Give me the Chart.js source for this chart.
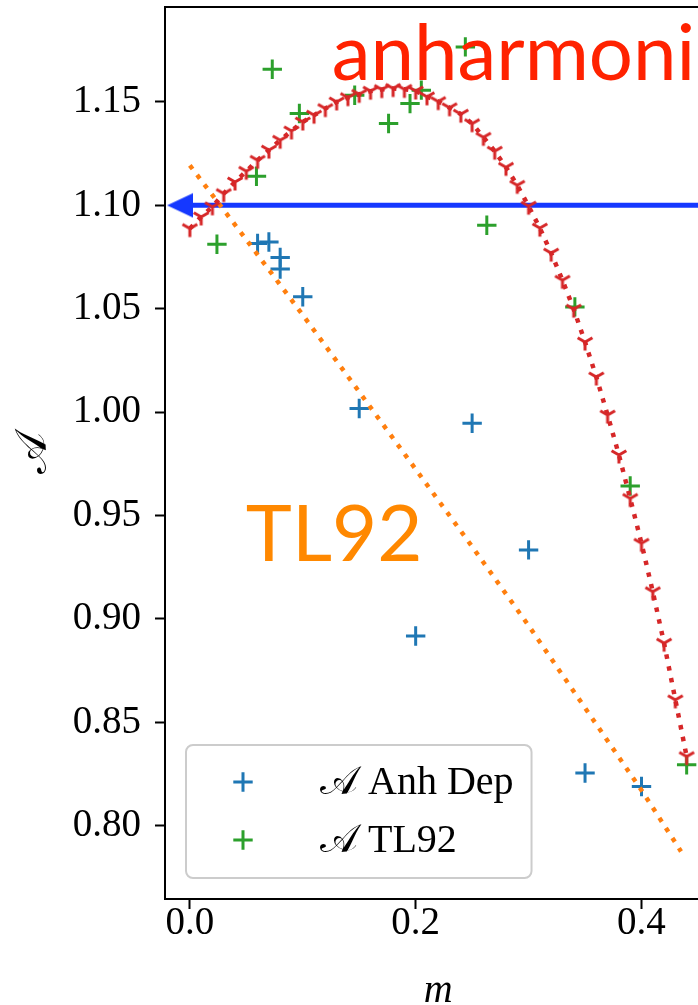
<!DOCTYPE html>
<html>
<head>
<meta charset="utf-8">
<script src="https://cdn.jsdelivr.net/npm/chart.js@4.4.1/dist/chart.umd.min.js"></script>
<style>
  html, body { margin: 0; padding: 0; background: #fff; overflow: hidden; }
  #wrap { width: 698px; height: 1005px; overflow: hidden; }
  canvas { display: block; }
</style>
</head>
<body>
<div id="wrap"><canvas id="chart" width="720" height="1005"></canvas></div>
<script>
// values
const anhDepM = [0.06, 0.07, 0.08, 0.08, 0.10, 0.15, 0.20, 0.25, 0.30, 0.35, 0.40];
const anhDepA = [1.0816, 1.0823, 1.0748, 1.0692, 1.0558, 1.0018, 0.8918, 0.9946, 0.9334, 0.8255, 0.8190];

const tl92M = [0.024, 0.059, 0.073, 0.097, 0.146, 0.176, 0.195, 0.205, 0.244, 0.263, 0.341, 0.390, 0.440];
const tl92A = [1.0812, 1.1141, 1.1658, 1.1444, 1.1532, 1.1396, 1.1492, 1.1557, 1.1766, 1.0904, 1.0509, 0.9643, 0.8295];

// dotted orange TL92 curve
const tl92LineM = [0.00, 0.05, 0.10, 0.15, 0.20, 0.25, 0.30, 0.35, 0.40, 0.435];
const tl92LineA = [1.1193, 1.0834, 1.0470, 1.0098, 0.9724, 0.9350, 0.8968, 0.8570, 0.8172, 0.7876];

// dotted red anharmonic curve with markers
const anhM = [0.00, 0.01, 0.02, 0.03, 0.04, 0.05, 0.06, 0.07, 0.08, 0.09,
              0.10, 0.11, 0.12, 0.13, 0.14, 0.15, 0.16, 0.17, 0.18, 0.19,
              0.20, 0.21, 0.22, 0.23, 0.24, 0.25, 0.26, 0.27, 0.28, 0.29,
              0.30, 0.31, 0.32, 0.33, 0.34, 0.35, 0.36, 0.37, 0.38, 0.39,
              0.40, 0.41, 0.42, 0.43, 0.44];
const anhA = [1.0888, 1.0944, 1.0993, 1.1057, 1.1113, 1.1165, 1.1218, 1.1267, 1.1315, 1.1360,
              1.1403, 1.1436, 1.1468, 1.1500, 1.1521, 1.1537, 1.1552, 1.1560, 1.1565, 1.1561,
              1.1553, 1.1525, 1.1502, 1.1472, 1.1441, 1.1395, 1.1329, 1.1262, 1.1184, 1.1097,
              1.0996, 1.0890, 1.0769, 1.0638, 1.0498, 1.0339, 1.0170, 0.9986, 0.9793, 0.9583,
              0.9366, 0.9132, 0.8883, 0.8609, 0.8335];

// blue arrow pointing at A = 1.10
const arrowM = [-0.0087, 0.47];
const arrowA = [1.10, 1.10];

const xTicks = [0.0, 0.2, 0.4];
const yTicks = [0.80, 0.85, 0.90, 0.95, 1.00, 1.05, 1.10, 1.15];

// text written inside the plot
const noteText = ['anharmoni', 'TL92'];
const noteM = [0.1256, 0.0496];
const noteA = [1.1605, 0.9281];
const noteColor = ['#ff2200', '#ff8800'];

const toPoints = (xs, ys) => xs.map((x, i) => ({ x: x, y: ys[i] }));

// matplotlib style "1" marker (tri_down)
function makeTriDown() {
  const c = document.createElement('canvas');
  c.width = 26; c.height = 26;
  const g = c.getContext('2d');
  g.strokeStyle = '#d62728';
  g.lineWidth = 3;
  g.beginPath();
  g.moveTo(13, 13); g.lineTo(13, 21.5);
  g.moveTo(13, 13); g.lineTo(13 - 7.4, 13 - 4.25);
  g.moveTo(13, 13); g.lineTo(13 + 7.4, 13 - 4.25);
  g.stroke();
  return c;
}

function makeArrowHead() {
  const c = document.createElement('canvas');
  c.width = 26; c.height = 26;
  const g = c.getContext('2d');
  g.fillStyle = '#1538ff';
  g.beginPath();
  g.moveTo(0, 13); g.lineTo(26, 0.7); g.lineTo(26, 25.3);
  g.closePath();
  g.fill();
  return c;
}

const frame = {
  id: 'frame',
  afterDatasetsDraw(chart) {
    const { ctx, chartArea: a, scales } = chart;
    ctx.save();
    // notes
    ctx.font = '78px Lato';
    ctx.textBaseline = 'alphabetic';
    noteText.forEach((t, i) => {
      ctx.fillStyle = noteColor[i];
      ctx.fillText(t, scales.x.getPixelForValue(noteM[i]), scales.y.getPixelForValue(noteA[i]));
    });
    ctx.strokeStyle = '#000';
    ctx.lineWidth = 2;
    ctx.strokeRect(a.left, a.top, a.right - a.left, a.bottom - a.top);
    ctx.restore();
  }
};

const legendBox = {
  id: 'legendBox',
  afterDraw(chart) {
    const { ctx, chartArea } = chart;
    const items = chart.data.datasets.filter(d => d.inLegend);
    ctx.save();
    ctx.font = '40px "Liberation Serif", "DejaVu Serif", serif';
    const textW = Math.max(...items.map(d => ctx.measureText(d.label).width));
    const left = chartArea.left + 21;
    const bottom = chartArea.bottom - 21;
    const w = 134 + textW + 18;
    const h = 133;
    const top = bottom - h;
    ctx.beginPath();
    ctx.roundRect(left, top, w, h, 7);
    ctx.fillStyle = 'rgba(255,255,255,0.8)';
    ctx.fill();
    ctx.strokeStyle = '#cccccc';
    ctx.lineWidth = 2;
    ctx.stroke();
    items.forEach((d, i) => {
      const cy = top + 37 + i * 58;
      const cx = left + 57;
      ctx.strokeStyle = d.borderColor;
      ctx.lineWidth = 3;
      ctx.beginPath();
      ctx.moveTo(cx - 9.7, cy); ctx.lineTo(cx + 9.7, cy);
      ctx.moveTo(cx, cy - 9.7); ctx.lineTo(cx, cy + 9.7);
      ctx.stroke();
      ctx.fillStyle = '#000';
      ctx.textBaseline = 'alphabetic';
      ctx.fillText(d.label, left + 134, cy + 11.5);
    });
    ctx.restore();
  }
};

const serif = '"Liberation Serif", "DejaVu Serif", serif';

new Chart(document.getElementById('chart'), {
  type: 'scatter',
  data: {
    datasets: [
      {
        label: 'anharmonic',
        data: toPoints(anhM, anhA),
        showLine: true,
        borderColor: '#d62728',
        borderWidth: 4.5,
        borderDash: [4.5, 7.5],
        borderCapStyle: 'butt',
        pointStyle: makeTriDown(),
        pointRadius: 8,
        order: 0
      },
      {
        label: 'TL92 curve',
        data: toPoints(tl92LineM, tl92LineA),
        showLine: true,
        borderColor: '#ff7f0e',
        borderWidth: 4.5,
        borderDash: [4.5, 7.5],
        borderCapStyle: 'butt',
        pointRadius: 0,
        order: 1
      },
      {
        label: '𝒜 Anh Dep',
        data: toPoints(anhDepM, anhDepA),
        borderColor: '#1f77b4',
        pointBorderColor: '#1f77b4',
        pointStyle: 'cross',
        pointRadius: 9.7,
        pointBorderWidth: 3,
        inLegend: true,
        order: 3
      },
      {
        label: '𝒜 TL92',
        data: toPoints(tl92M, tl92A),
        borderColor: '#2ca02c',
        pointBorderColor: '#2ca02c',
        pointStyle: 'cross',
        pointRadius: 9.7,
        pointBorderWidth: 3,
        inLegend: true,
        order: 2
      },
      {
        label: 'arrow',
        data: toPoints(arrowM, arrowA),
        showLine: true,
        borderColor: '#1538ff',
        borderWidth: 5,
        pointStyle: [makeArrowHead(), 'circle'],
        pointRadius: [6, 0],
        order: 4
      }
    ]
  },
  options: {
    responsive: false,
    animation: false,
    events: [],
    layout: { autoPadding: false, padding: { top: 7, right: 8.5, left: 0, bottom: 0 } },
    plugins: { legend: { display: false }, tooltip: { enabled: false } },
    scales: {
      x: {
        type: 'linear',
        min: -0.022,
        max: 0.462,
        afterBuildTicks: s => { s.ticks = xTicks.map(v => ({ value: v })); },
        afterFit: s => { s.height = 106; s.paddingLeft = 0; s.paddingRight = 0; },
        border: { display: false },
        grid: { drawOnChartArea: false, tickLength: 10, tickWidth: 2, tickColor: '#000' },
        ticks: {
          color: '#000',
          padding: -9,
          maxRotation: 0,
          font: { family: serif, size: 39 },
          callback: v => v.toFixed(1)
        },
        title: {
          display: true,
          text: 'm',
          color: '#000',
          font: { family: serif, size: 40, style: 'italic', lineHeight: 1 },
          padding: { top: 0, bottom: -6 }
        }
      },
      y: {
        type: 'linear',
        min: 0.7646,
        max: 1.1959,
        afterBuildTicks: s => { s.ticks = yTicks.map(v => ({ value: v })); },
        afterFit: s => { s.width = 165; s.paddingTop = 0; s.paddingBottom = 0; },
        border: { display: false },
        grid: { drawOnChartArea: false, tickLength: 10, tickWidth: 2, tickColor: '#000' },
        ticks: {
          color: '#000',
          padding: 14,
          font: { family: serif, size: 39 },
          callback: v => v.toFixed(2)
        },
        title: {
          display: true,
          text: '𝒜',
          color: '#000',
          font: { family: serif, size: 44, lineHeight: 1 },
          padding: { top: 12, bottom: 0 }
        }
      }
    }
  },
  plugins: [frame, legendBox]
});
</script>
</body>
</html>
